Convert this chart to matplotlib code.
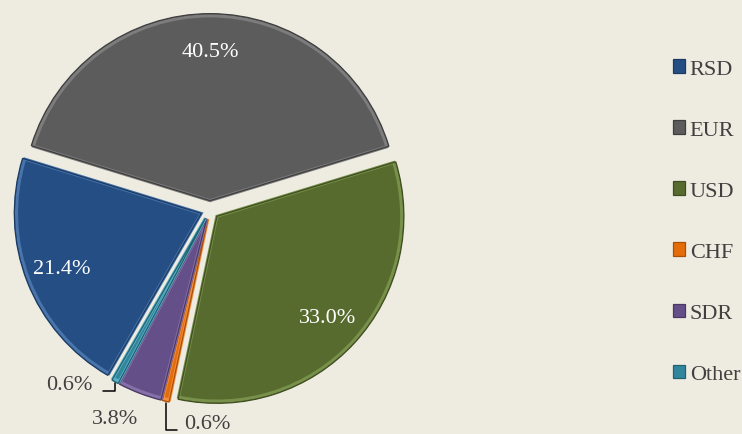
import numpy as np
import matplotlib.pyplot as plt
from matplotlib.patches import Wedge

# Currency structure (%)
categories = ["RSD", "EUR", "USD", "CHF", "SDR", "Other"]
shares = [21.4, 40.5, 33.0, 0.6, 3.8, 0.6]
slice_colors = ["#254F84", "#5C5C5C", "#586B2F", "#E46C0A", "#654F88", "#31869D"]
light_colors = ["#4A75AA", "#7C7C7C", "#77904A", "#F39040", "#8670A8", "#5AAEC4"]
edge_colors = ["#1A3A63", "#3E3E3E", "#3F4D20", "#A94F06", "#4A3965", "#226173"]

bg = "#EEECE1"
text_grey = "#404040"
plt.rcParams["font.family"] = ["Liberation Serif", "DejaVu Serif"]

fig = plt.figure(figsize=(7.42, 4.35), dpi=100, facecolor=bg)
ax = fig.add_axes([10 / 742, 24 / 435, 400 / 742, 400 / 435])
ax.set_facecolor(bg)

wedges, _ = ax.pie(shares, colors=slice_colors, startangle=240, counterclock=False,
                   explode=[0.05] * len(shares),
                   wedgeprops=dict(linewidth=0))

# rough bevel: light rim just inside, darker outline on top
for w, lc, ec in zip(wedges, light_colors, edge_colors):
    rim = Wedge(w.center, w.r - 0.012, w.theta1, w.theta2, fill=False,
                edgecolor=lc, linewidth=2.2, joinstyle="miter")
    ax.add_patch(rim)
    outline = Wedge(w.center, w.r, w.theta1, w.theta2, fill=False,
                    edgecolor=ec, linewidth=0.9)
    ax.add_patch(outline)

lim = 200 / 187
ax.set_xlim(-lim, lim)
ax.set_ylim(-lim, lim)
ax.set_aspect("equal")
ax.axis("off")


def mid_point(w, frac):
    a = np.deg2rad((w.theta1 + w.theta2) / 2)
    cx, cy = w.center
    return cx + frac * w.r * np.cos(a), cy + frac * w.r * np.sin(a)


# labels inside the big slices
for w, v in zip(wedges, shares):
    if v > 10:
        x, y = mid_point(w, 0.8)
        ax.text(x, y, "{:.1f}%".format(v), color="white", fontsize=16,
                ha="center", va="center")

# small slices: outside labels, two with elbow leader lines
x, y = mid_point(wedges[5], 1.0)
ax.annotate("{:.1f}%".format(shares[5]), xy=(x, y), xytext=(-16, -2),
            textcoords="offset points", ha="right", va="center",
            fontsize=16, color=text_grey,
            arrowprops=dict(arrowstyle="-", color="black", lw=1.1, shrinkA=5,
                            shrinkB=1, relpos=(1, 0.15),
                            connectionstyle="angle,angleA=0,angleB=90,rad=0"))

x, y = mid_point(wedges[4], 1.0)
ax.annotate("{:.1f}%".format(shares[4]), xy=(x, y), xytext=(-18, -18),
            textcoords="offset points", ha="center", va="center",
            fontsize=16, color=text_grey)

x, y = mid_point(wedges[3], 1.0)
ax.annotate("{:.1f}%".format(shares[3]), xy=(x, y), xytext=(13, -16),
            textcoords="offset points", ha="left", va="center",
            fontsize=16, color=text_grey,
            arrowprops=dict(arrowstyle="-", color="black", lw=1.1, shrinkA=3,
                            shrinkB=1, relpos=(0, 0.15),
                            connectionstyle="angle,angleA=0,angleB=90,rad=0"))

leg = fig.legend(wedges, categories, loc="center left",
                 bbox_to_anchor=(673 / 742, 0.488), frameon=False,
                 fontsize=16, handlelength=0.55, handleheight=0.55,
                 handletextpad=0.2, labelspacing=1.87, borderpad=0,
                 borderaxespad=0)
for t in leg.get_texts():
    t.set_color(text_grey)
for h, ec in zip(leg.legend_handles, edge_colors):
    h.set_edgecolor(ec)
    h.set_linewidth(0.9)

plt.savefig("out.png", dpi=100, facecolor=bg)
